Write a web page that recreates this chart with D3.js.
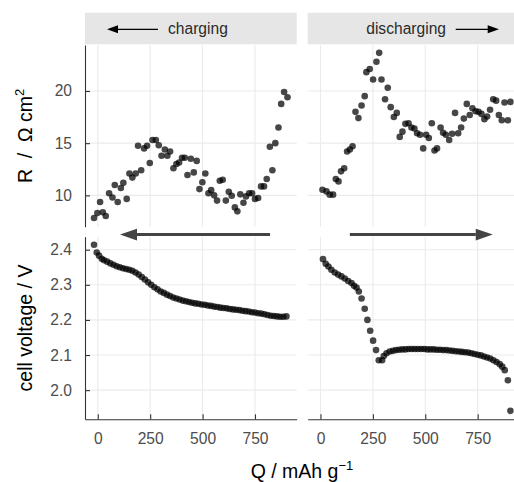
<!DOCTYPE html>
<html>
<head>
<meta charset="utf-8">
<script src="https://cdn.jsdelivr.net/npm/d3@7"></script>
<style>
  body { margin: 0; background: #fff; }
  svg { display: block; font-family: "Liberation Sans", Arial, Helvetica, sans-serif; }
</style>
</head>
<body>
<div id="chart"></div>
<script>
// charging, R vs Q
const qChargeR = [-18,-2,11,24,38,54,70,81,95,110,122,138,151,165,181,192,207,221,235,248,261,277,291,304,320,332,345,361,375,388,402,415,428,444,458,472,485,499,513,528,541,555,569,582,596,611,625,639,654,666,680,695,707,722,736,750,765,779,793,806,821,833,847,862,875,889,905];
const rCharge = [7.84,8.3,9.37,8.38,8.03,10.2,9.8,11.0,9.37,10.7,11.2,9.66,12.1,11.7,12.1,14.75,12.4,14.5,14.75,13.1,15.3,15.3,14.8,13.8,14.4,13.8,14.2,12.6,13.0,13.15,13.6,13.6,11.95,13.5,12.2,13.3,10.6,11.25,12.1,10.2,10.5,10.0,9.5,11.4,11.5,9.5,10.35,9.97,8.85,8.47,10.1,9.3,9.9,10.2,10.2,9.66,9.75,10.86,10.86,11.57,14.65,12.4,15.0,16.5,18.76,19.9,19.4];

// discharging, R vs Q
const qDischargeR = [9.5,28.6,44,60,73,86,98,113,127,140,153,167,181,196,211,219,235,251,267,280,291,308,321,335,350,364,378,391,405,420,434,448,461,475,490,504,517,531,544,556,573,585,598,614,628,642,657,671,684,698,712,725,740,754,768,782,795,809,824,838,851,865,878,894,906];
const rDischarge = [10.54,10.38,10.07,10.07,11.57,11.34,12.3,12.6,14.2,14.4,14.7,18.0,17.4,18.6,19.5,21.8,22.1,21.1,22.8,23.65,21.1,19.2,20.3,18.45,17.5,17.9,15.6,16.1,16.85,16.9,16.5,16.4,15.95,15.8,14.5,15.8,15.5,16.9,14.3,14.5,16.5,16.0,15.8,15.3,15.9,17.9,15.95,16.5,17.35,18.76,17.7,18.35,18.05,18.0,17.8,17.3,17.55,18.2,19.2,19.07,17.7,17.2,18.9,17.2,18.95];

// charging, cell voltage vs Q
const qChargeV = [-18,-5,6,19,30,45,60,75,90,105,120,135,150,165,180,195,210,225,240,255,270,285,300,315,330,345,360,375,390,405,420,435,450,465,480,495,510,525,540,555,570,585,600,615,630,645,660,675,690,705,720,735,750,765,780,795,810,825,840,855,870,885,900];
const vCharge = [2.414,2.392,2.383,2.374,2.370,2.366,2.361,2.357,2.353,2.350,2.347,2.345,2.343,2.340,2.335,2.329,2.322,2.315,2.307,2.300,2.293,2.287,2.281,2.277,2.272,2.268,2.264,2.261,2.258,2.255,2.253,2.251,2.249,2.247,2.246,2.244,2.243,2.241,2.240,2.238,2.237,2.235,2.234,2.233,2.231,2.230,2.229,2.228,2.226,2.225,2.224,2.222,2.221,2.219,2.218,2.216,2.214,2.212,2.211,2.210,2.209,2.209,2.210];

// discharging, cell voltage vs Q
const qDischargeV = [12,25,38,52,68,84,100,116,132,148,160,172,183,196,211,224,237,251,265,278,294,302,315,330,345,360,375,390,405,420,435,450,465,480,495,510,525,540,555,570,585,600,615,630,645,660,675,690,705,720,735,750,765,780,795,810,825,840,855,867,879,894,906];
const vDischarge = [2.373,2.360,2.352,2.343,2.335,2.329,2.324,2.318,2.311,2.305,2.297,2.292,2.281,2.261,2.232,2.2,2.169,2.141,2.114,2.085,2.085,2.097,2.105,2.110,2.112,2.114,2.115,2.116,2.116,2.117,2.117,2.117,2.117,2.117,2.117,2.116,2.116,2.116,2.115,2.115,2.114,2.114,2.113,2.112,2.111,2.110,2.109,2.108,2.107,2.105,2.103,2.101,2.099,2.096,2.093,2.090,2.085,2.080,2.074,2.067,2.057,2.028,1.941];

const xTicks = [0, 250, 500, 750];
const rTicks = [10, 15, 20];
const vTicks = [2.0, 2.1, 2.2, 2.3, 2.4];
const stripLabels = ["charging", "discharging"];
// direction arrows in the voltage panels: [from Q, to Q] at voltage level
const arrowQ = [[822, 106], [140, 822]];
const arrowV = 2.443;

const width = 514, height = 482;
const cols = [[85, 296.7], [307.7, 519.4]];
const rowR = [45, 226.7], rowV = [236.7, 419.3];
const stripTop = 12.7, stripH = 31.6;
const font = 15.6;

const svg = d3.select("#chart").append("svg")
    .attr("width", width)
    .attr("height", height);

const xs = cols.map(c => d3.scaleLinear().domain([-61, 949]).range(c));
const yR = d3.scaleLinear().domain([7.0, 24.4]).range([rowR[1], rowR[0]]);
const yV = d3.scaleLinear().domain([1.917, 2.437]).range([rowV[1], rowV[0]]);

const panels = [
    {col: 0, y: yR, rows: rowR, ticks: rTicks, q: qChargeR, v: rCharge},
    {col: 1, y: yR, rows: rowR, ticks: rTicks, q: qDischargeR, v: rDischarge},
    {col: 0, y: yV, rows: rowV, ticks: vTicks, q: qChargeV, v: vCharge},
    {col: 1, y: yV, rows: rowV, ticks: vTicks, q: qDischargeV, v: vDischarge}
];

// grid
panels.forEach(function(p) {
    const x = xs[p.col];
    const g = svg.append("g").attr("stroke", "#ebebeb").attr("stroke-width", 1.1);
    g.selectAll("line.h").data(p.ticks).enter().append("line")
        .attr("x1", x.range()[0]).attr("x2", x.range()[1])
        .attr("y1", d => p.y(d)).attr("y2", d => p.y(d));
    g.selectAll("line.v").data(xTicks).enter().append("line")
        .attr("x1", d => x(d)).attr("x2", d => x(d))
        .attr("y1", p.rows[0]).attr("y2", p.rows[1]);
});

// strips
stripLabels.forEach(function(lab, i) {
    const c = cols[i];
    svg.append("rect")
        .attr("x", c[0]).attr("y", stripTop)
        .attr("width", c[1] - c[0]).attr("height", stripH)
        .attr("fill", "#e6e6e6");
    const t = svg.append("text")
        .attr("y", 34)
        .attr("font-size", font)
        .attr("fill", "#2b2b2b")
        .text(lab);
    const ay = 29.3;
    if (i === 0) {
        t.attr("x", c[0] + 83).attr("text-anchor", "start");
        svg.append("line").attr("x1", c[0] + 30).attr("x2", c[0] + 73)
            .attr("y1", ay).attr("y2", ay).attr("stroke", "#000").attr("stroke-width", 1.3);
        svg.append("path")
            .attr("d", `M${c[0] + 22},${ay} L${c[0] + 33},${ay - 4} L${c[0] + 33},${ay + 4} Z`)
            .attr("fill", "#000");
    } else {
        t.attr("x", c[0] + 138.3).attr("text-anchor", "end");
        svg.append("line").attr("x1", c[0] + 148).attr("x2", c[0] + 183)
            .attr("y1", ay).attr("y2", ay).attr("stroke", "#000").attr("stroke-width", 1.3);
        svg.append("path")
            .attr("d", `M${c[0] + 191.3},${ay} L${c[0] + 180},${ay - 4} L${c[0] + 180},${ay + 4} Z`)
            .attr("fill", "#000");
    }
});

// points
panels.forEach(function(p) {
    const x = xs[p.col];
    svg.append("g").selectAll("circle")
        .data(p.q.map((q, i) => [q, p.v[i]]))
        .enter().append("circle")
        .attr("cx", d => x(d[0]))
        .attr("cy", d => p.y(d[1]))
        .attr("r", 3.3)
        .attr("fill", "#000")
        .attr("fill-opacity", 0.72);
});

// direction arrows in voltage panels
arrowQ.forEach(function(a, i) {
    const x = xs[i];
    const x1 = x(a[0]), x2 = x(a[1]), y = yV(arrowV);
    const dir = x2 > x1 ? 1 : -1;
    const base = x2 - dir * 17;
    svg.append("line")
        .attr("x1", x1).attr("x2", base).attr("y1", y).attr("y2", y)
        .attr("stroke", "#444").attr("stroke-width", 3);
    svg.append("path")
        .attr("d", `M${x2},${y} L${base},${y - 5.8} L${base},${y + 5.8} Z`)
        .attr("fill", "#444");
});

// axes
function styleAxis(g) {
    g.select(".domain").attr("stroke", "#333").attr("stroke-width", 1.1);
    g.selectAll(".tick line").attr("stroke", "#333").attr("stroke-width", 1.1);
    g.selectAll(".tick text").attr("fill", "#4d4d4d").attr("font-size", font)
        .attr("font-family", "Liberation Sans, Arial, sans-serif");
}

svg.append("g").attr("transform", `translate(${cols[0][0]},0)`)
    .call(d3.axisLeft(yR).tickValues(rTicks).tickSizeInner(-5).tickSizeOuter(0).tickPadding(13))
    .call(styleAxis);
svg.append("g").attr("transform", `translate(${cols[0][0]},0)`)
    .call(d3.axisLeft(yV).tickValues(vTicks).tickFormat(d3.format(".1f")).tickSizeInner(-5).tickSizeOuter(0).tickPadding(13))
    .call(styleAxis);
xs.forEach(function(x) {
    svg.append("g").attr("transform", `translate(0,${rowV[1]})`)
        .call(d3.axisBottom(x).tickValues(xTicks).tickSizeInner(-5).tickSizeOuter(0).tickPadding(13.6))
        .call(styleAxis);
});

// axis titles
const xt = svg.append("text")
    .attr("x", 302).attr("y", 478)
    .attr("text-anchor", "middle")
    .attr("font-size", 19.5)
    .attr("fill", "#000");
xt.append("tspan").text("Q / mAh g");
xt.append("tspan").attr("dy", -8).attr("font-size", 13).text("\u22121");

const yt1 = svg.append("text")
    .attr("transform", `translate(32,${(rowR[0] + rowR[1]) / 2}) rotate(-90)`)
    .attr("text-anchor", "middle")
    .attr("font-size", 19.5)
    .attr("fill", "#000");
yt1.append("tspan").text("R\u00a0\u00a0/\u00a0\u00a0\u03a9\u00a0cm");
yt1.append("tspan").attr("dy", -8).attr("font-size", 13).text("2");

svg.append("text")
    .attr("transform", `translate(32,${(rowV[0] + rowV[1]) / 2}) rotate(-90)`)
    .attr("text-anchor", "middle")
    .attr("font-size", 19.5)
    .attr("fill", "#000")
    .text("cell voltage / V");
</script>
</body>
</html>
